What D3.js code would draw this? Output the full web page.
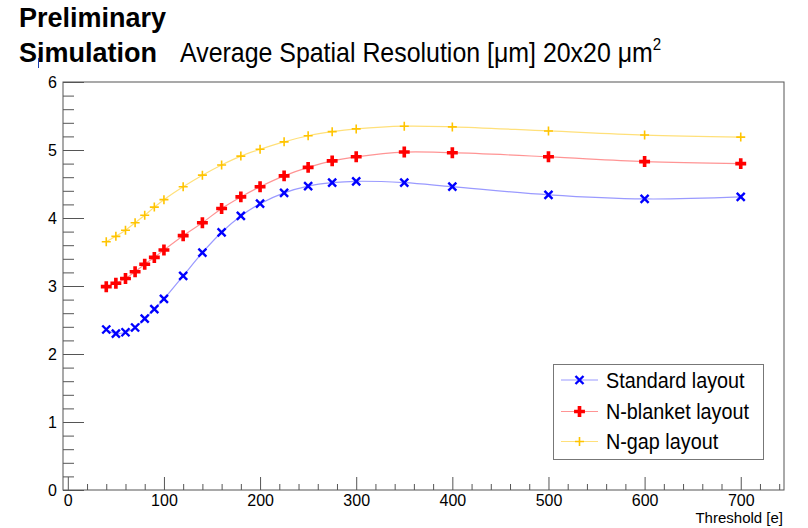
<!DOCTYPE html>
<html>
<head>
<meta charset="utf-8">
<script src="https://cdn.jsdelivr.net/npm/d3@7"></script>
<style>
  body { margin: 0; background: #fff; }
  text { font-family: "Liberation Sans", Arial, Helvetica, sans-serif; fill: #000; }
</style>
</head>
<body>
<svg></svg>
<script>
// data
var thresholds = [40, 50, 60, 70, 80, 90, 100, 120, 140, 160, 180, 200, 225, 250, 275, 300, 350, 400, 500, 600, 700];
var standard = [2.36, 2.30, 2.32, 2.39, 2.52, 2.66, 2.81, 3.15, 3.49, 3.79, 4.03, 4.21, 4.37, 4.47, 4.52, 4.54, 4.52, 4.46, 4.34, 4.28, 4.31];
var nBlanket = [2.99, 3.04, 3.11, 3.21, 3.32, 3.42, 3.53, 3.74, 3.93, 4.14, 4.31, 4.46, 4.62, 4.745, 4.84, 4.90, 4.97, 4.96, 4.90, 4.83, 4.80];
var nGap = [3.65, 3.73, 3.82, 3.93, 4.04, 4.16, 4.27, 4.46, 4.63, 4.78, 4.91, 5.01, 5.12, 5.21, 5.27, 5.31, 5.35, 5.34, 5.28, 5.22, 5.19];
var seriesNames = ["Standard layout", "N-blanket layout", "N-gap layout"];
var xTicks = [0, 100, 200, 300, 400, 500, 600, 700];
var yTicks = [0, 1, 2, 3, 4, 5, 6];

var svgWidth = 808, svgHeight = 528;
var frameLeft = 63, frameRight = 784, frameTop = 82, frameBottom = 490;

var svg = d3.select("svg")
    .attr("width", svgWidth)
    .attr("height", svgHeight);

svg.append("rect").attr("width", svgWidth).attr("height", svgHeight).attr("fill", "#fff");

var xScale = d3.scaleLinear().domain([-5, 745]).range([frameLeft, frameRight]);
var yScale = d3.scaleLinear().domain([0, 6]).range([frameBottom, frameTop]);

// frame
svg.append("rect")
    .attr("x", frameLeft).attr("y", frameTop)
    .attr("width", frameRight - frameLeft).attr("height", frameBottom - frameTop)
    .attr("fill", "none").attr("stroke", "#555").attr("stroke-width", 1);

// minor ticks
var xMinor = d3.range(0, 745, 20).filter(function(d) { return d % 100 !== 0; });
var yMinor = d3.range(0, 6.01, 0.2).filter(function(d) { return Math.abs(d - Math.round(d)) > 0.01; });

var xAxis = d3.axisBottom(xScale).tickValues(xTicks).tickSize(-13).tickPadding(5).tickFormat(d3.format("d"));
var yAxis = d3.axisLeft(yScale).tickValues(yTicks).tickSize(-21).tickPadding(6).tickFormat(d3.format("d"));

var gx = svg.append("g").attr("transform", "translate(0," + frameBottom + ")").call(xAxis);
var gy = svg.append("g").attr("transform", "translate(" + frameLeft + ",0)").call(yAxis);
svg.append("g").attr("transform", "translate(0," + frameBottom + ")")
    .call(d3.axisBottom(xScale).tickValues(xMinor).tickSize(-6).tickFormat(""));
svg.append("g").attr("transform", "translate(" + frameLeft + ",0)")
    .call(d3.axisLeft(yScale).tickValues(yMinor).tickSize(-11).tickFormat(""));

svg.selectAll(".domain").remove();
svg.selectAll(".tick line").attr("stroke", "#555");
gx.selectAll("text").attr("font-size", 16).style("font-family", "Liberation Sans, Arial, sans-serif");
gy.selectAll("text").attr("font-size", 16).style("font-family", "Liberation Sans, Arial, sans-serif");

// axis title
svg.append("text")
    .attr("x", 783).attr("y", 523)
    .attr("text-anchor", "end")
    .attr("font-size", 15)
    .text("Threshold [e]");

// titles
svg.append("text").attr("x", 19).attr("y", 27).attr("font-size", 27).attr("font-weight", "bold").text("Preliminary");
svg.append("text").attr("x", 19).attr("y", 62).attr("font-size", 27).attr("font-weight", "bold").text("Simulation");
svg.append("line").attr("x1", 38.5).attr("x2", 38.5).attr("y1", 58).attr("y2", 68)
    .attr("stroke", "#1a3fb0").attr("stroke-width", 1);

var title = svg.append("text")
    .attr("transform", "translate(180,62) scale(0.89,1)")
    .attr("font-size", 28);
title.append("tspan").text("Average Spatial Resolution [\u03bcm] 20x20 \u03bcm");
title.append("tspan").attr("dy", -12).attr("font-size", 17).text("2");

// series
var series = [
  { name: seriesNames[0], values: standard, color: "#0000ff", line: "#9a9aff", marker: "x" },
  { name: seriesNames[1], values: nBlanket, color: "#ff0000", line: "#ff9494", marker: "plusBold" },
  { name: seriesNames[2], values: nGap, color: "#ffc400", line: "#ffe07a", marker: "plus" }
];

var line = d3.line()
    .x(function(d) { return xScale(d[0]); })
    .y(function(d) { return yScale(d[1]); })
    .curve(d3.curveCatmullRom.alpha(0.5));

function drawMarker(g, type, color) {
  if (type === "x") {
    g.append("path").attr("d", "M-4,-4L4,4M-4,4L4,-4")
      .attr("stroke", color).attr("stroke-width", 2.4).attr("fill", "none");
  } else if (type === "plusBold") {
    g.append("path").attr("d", d3.symbol().type(d3.symbolCross).size(66)())
      .attr("fill", color);
  } else {
    g.append("path").attr("d", "M-4.5,0L4.5,0M0,-4.5L0,4.5")
      .attr("stroke", color).attr("stroke-width", 1.6).attr("fill", "none");
  }
}

series.forEach(function(s) {
  var pts = thresholds.map(function(t, i) { return [t, s.values[i]]; });
  svg.append("path")
    .datum(pts)
    .attr("d", line)
    .attr("fill", "none")
    .attr("stroke", s.line)
    .attr("stroke-width", 1.2);
  svg.selectAll(null)
    .data(pts)
    .enter()
    .append("g")
    .attr("transform", function(d) { return "translate(" + xScale(d[0]) + "," + yScale(d[1]) + ")"; })
    .each(function() { drawMarker(d3.select(this), s.marker, s.color); });
});

// legend
var legend = svg.append("g");
legend.append("rect")
    .attr("x", 553.5).attr("y", 364.5).attr("width", 210).attr("height", 95)
    .attr("fill", "#fff").attr("stroke", "#777").attr("stroke-width", 1);
var legendY = [380, 411.5, 441.5];
series.forEach(function(s, i) {
  var y = legendY[i];
  legend.append("line").attr("x1", 561).attr("x2", 598).attr("y1", y).attr("y2", y)
    .attr("stroke", s.line).attr("stroke-width", 1.2);
  drawMarker(legend.append("g").attr("transform", "translate(579.5," + y + ")"), s.marker, s.color);
  legend.append("text")
    .attr("transform", "translate(606," + (y + 7.5) + ") scale(0.9,1)")
    .attr("font-size", 22)
    .text(s.name);
});
</script>
</body>
</html>
